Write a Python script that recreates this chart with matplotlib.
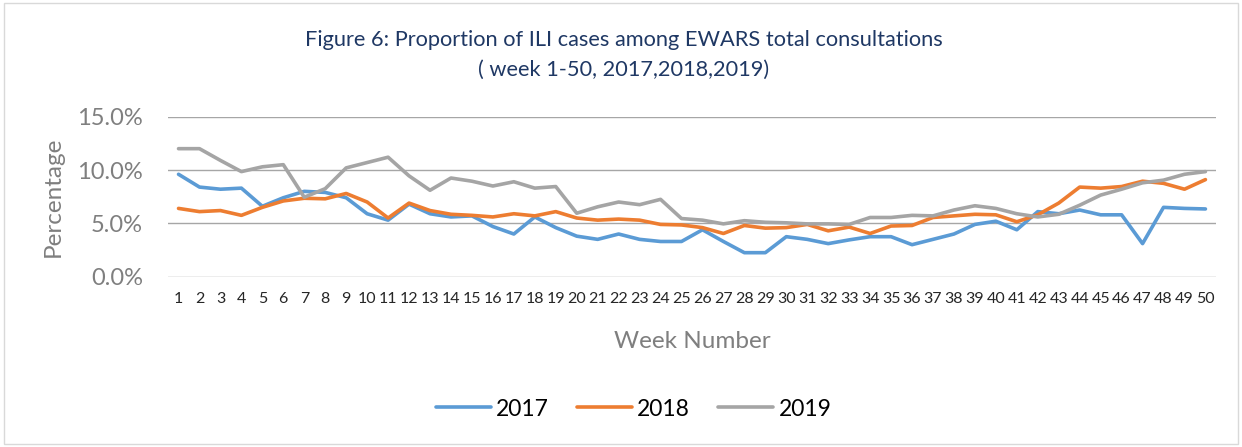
import numpy as np
import matplotlib
matplotlib.use("Agg")
from matplotlib import pyplot as plt
from matplotlib.ticker import PercentFormatter
from matplotlib.patches import Rectangle

plt.rcParams['font.family'] = ['Lato', 'DejaVu Sans']

# 주차 (week 1-50)
weeks = list(range(1, 51))

# 연도별 ILI 비율 (%)
y2017 = [9.6, 8.4, 8.2, 8.3, 6.6, 7.4, 8.0, 7.9, 7.4, 5.9,
         5.3, 6.8, 5.9, 5.6, 5.7, 4.7, 4.0, 5.6, 4.6, 3.8,
         3.5, 4.0, 3.5, 3.3, 3.3, 4.4, 3.3, 2.25, 2.25, 3.75,
         3.5, 3.1, 3.45, 3.75, 3.75, 3.0, 3.5, 4.0, 4.9, 5.2,
         4.4, 6.1, 5.9, 6.25, 5.8, 5.8, 3.1, 6.5, 6.4, 6.35]
y2018 = [6.4, 6.1, 6.2, 5.75, 6.5, 7.1, 7.35, 7.3, 7.8, 7.0,
         5.5, 6.9, 6.2, 5.85, 5.75, 5.6, 5.9, 5.7, 6.1, 5.5,
         5.3, 5.4, 5.3, 4.9, 4.85, 4.6, 4.05, 4.8, 4.55, 4.6,
         4.9, 4.3, 4.65, 4.05, 4.75, 4.8, 5.55, 5.7, 5.85, 5.8,
         5.15, 5.8, 6.9, 8.4, 8.3, 8.45, 8.95, 8.75, 8.2, 9.1]
y2019 = [12.0, 12.0, 10.9, 9.85, 10.3, 10.5, 7.45, 8.25, 10.2, 10.7,
         11.2, 9.45, 8.1, 9.25, 8.95, 8.5, 8.9, 8.3, 8.45, 5.95,
         6.55, 7.0, 6.75, 7.25, 5.45, 5.3, 4.95, 5.25, 5.1, 5.05,
         4.95, 4.95, 4.9, 5.55, 5.55, 5.75, 5.7, 6.25, 6.65, 6.4,
         5.9, 5.6, 5.85, 6.7, 7.65, 8.2, 8.8, 9.05, 9.6, 9.85]

series = [("2017", y2017, '#5b9bd5'),
          ("2018", y2018, '#ed7d31'),
          ("2019", y2019, '#a5a5a5')]

fig = plt.figure(figsize=(12.42, 4.47), dpi=100)
fig.patches.append(Rectangle((0.003, 0.006), 0.994, 0.988, transform=fig.transFigure,
                             fill=False, edgecolor='#d9d9d9', linewidth=1))
ax = fig.add_axes([0.1353, 0.381, 0.8437, 0.358])

for name, vals, col in series:
    ax.plot(weeks, np.array(vals) / 100, color=col, linewidth=2.6, label=name,
            solid_capstyle='round', solid_joinstyle='round')

ax.set_xlim(0.5, 50.5)
ax.set_ylim(0, 0.15)
ax.set_yticks([0, 0.05, 0.10, 0.15])
ax.yaxis.set_major_formatter(PercentFormatter(1.0, decimals=1))
ax.set_xticks(weeks)
ax.set_xticklabels([str(w) for w in weeks])
ax.grid(axis='y', color='#a6a6a6', linewidth=1)
ax.set_axisbelow(True)
for s in ax.spines.values():
    s.set_visible(False)
ax.tick_params(axis='y', length=0, pad=18, labelsize=17, labelcolor='#7f7f7f')
ax.tick_params(axis='x', length=0, pad=11, labelsize=11.5, labelcolor='#262626')

ax.set_ylabel("Percentage", fontsize=17.5, color='#7f7f7f', labelpad=10)
ax.set_xlabel("Week Number", fontsize=17.5, color='#7f7f7f', labelpad=18)

fig.text(0.502, 0.91, "Figure 6: Proportion of ILI cases among EWARS total consultations",
         ha='center', va='center', fontsize=15.7, color='#1f3864')
fig.text(0.502, 0.843, "( week 1-50, 2017,2018,2019)",
         ha='center', va='center', fontsize=15.7, color='#1f3864')

fig.legend(loc='center', bbox_to_anchor=(0.51, 0.085), ncol=3, frameon=False,
           fontsize=16.5, handlelength=2.4, columnspacing=1.2, handletextpad=0.25)

fig.savefig("out.png", dpi=100)
